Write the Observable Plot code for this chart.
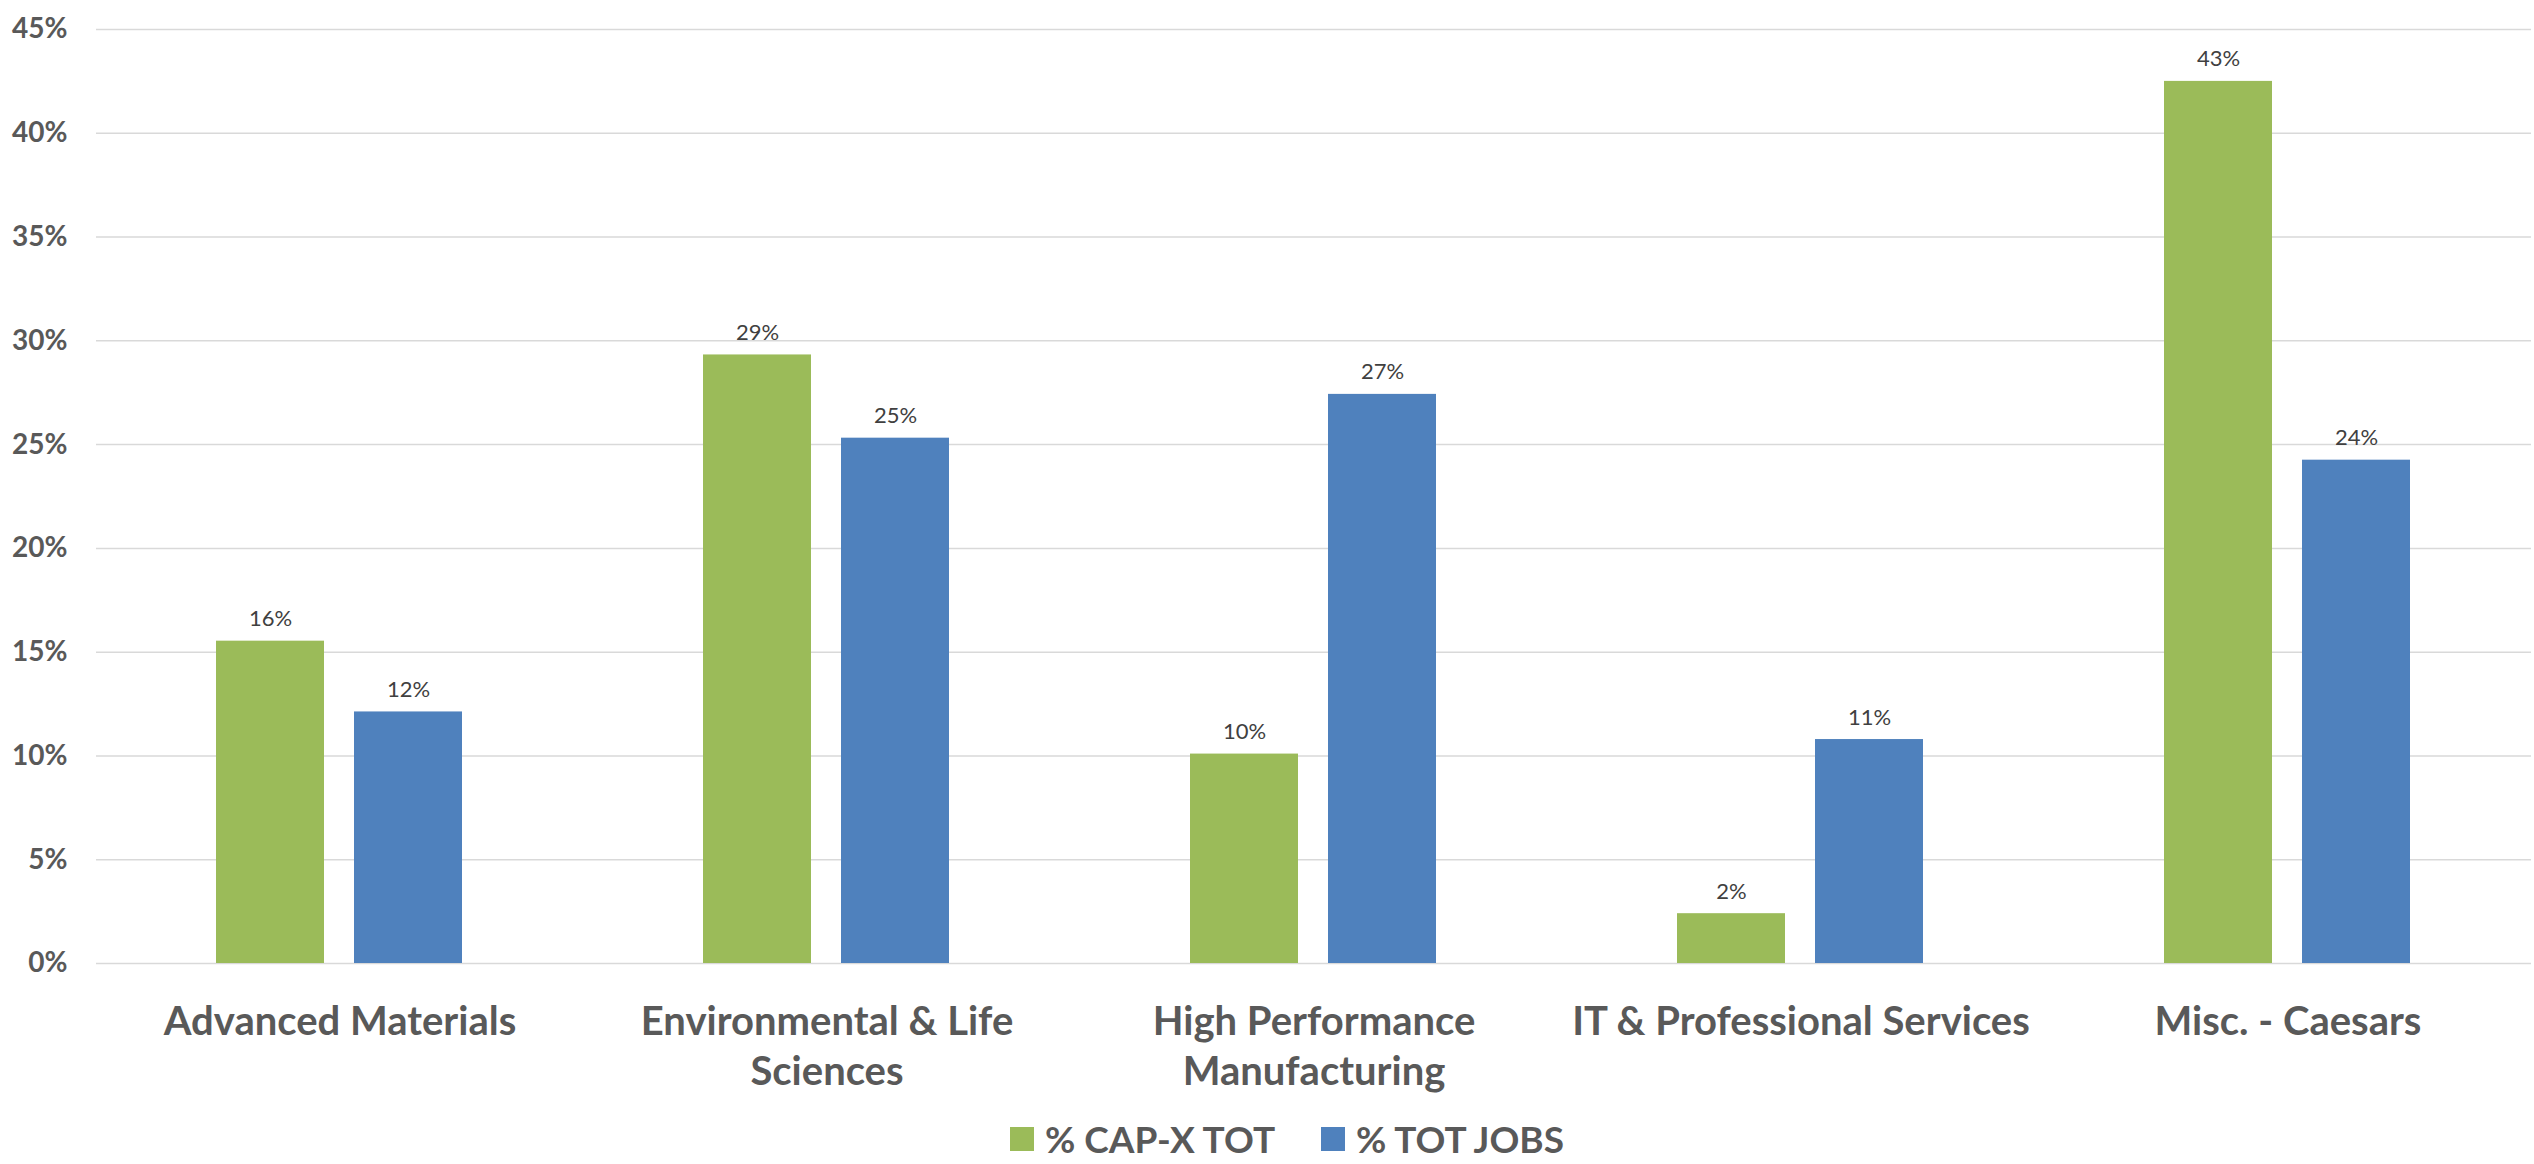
<!DOCTYPE html>
<html><head><meta charset="utf-8">
<script src="https://cdn.jsdelivr.net/npm/d3@7"></script>
<script src="https://cdn.jsdelivr.net/npm/@observablehq/plot@0.6"></script>
<style>
html,body{margin:0;padding:0;background:#fff;}
#wrap{position:relative;width:2534px;height:1164px;overflow:hidden;font-family:Lato,"Open Sans",sans-serif;}
#chart svg{display:block}
.legend-item{position:absolute;top:1120px;display:flex;align-items:center;font-weight:700;font-size:37px;color:#595959;line-height:37px;white-space:nowrap}
.legend-item .sw{width:24px;height:24px;margin-right:11px;flex:none}
</style></head><body><div id="wrap"><div id="chart"></div><div id="legend"></div></div>
<script>
const categories = ["Advanced Materials","Environmental & Life Sciences","High Performance Manufacturing","IT & Professional Services","Misc. - Caesars"];
const categoryLabels = ["Advanced Materials","Environmental & Life\nSciences","High Performance\nManufacturing","IT & Professional Services","Misc. - Caesars"];
const seriesNames = ["% CAP-X TOT","% TOT JOBS"];
const seriesColors = ["#9BBB59","#4F81BD"];
const capxValues = [0.1553,0.2932,0.1009,0.0240,0.4250];
const jobsValues = [0.1212,0.2531,0.2742,0.1079,0.2425];
const yTicks = [0,0.05,0.10,0.15,0.20,0.25,0.30,0.35,0.40,0.45];

const rows = categories.flatMap((c,i)=>[
  {category:c, series:seriesNames[0], value:capxValues[i]},
  {category:c, series:seriesNames[1], value:jobsValues[i]}
]);
const labelOf = new Map(categories.map((c,i)=>[c,categoryLabels[i]]));
const pct = d3.format(".0%");

const chart = Plot.plot({
  width:2534, height:1110,
  marginTop:29, marginBottom:147, marginLeft:96, marginRight:3,
  style:{fontFamily:"Lato, 'Open Sans', sans-serif", background:"#fff"},
  fx:{domain:categories, padding:0, label:null},
  x:{domain:seriesNames, paddingInner:0.216, paddingOuter:0.86, axis:null},
  y:{domain:[0,0.45], axis:null, label:null},
  color:{domain:seriesNames, range:seriesColors},
  marks:[
    Plot.gridY(yTicks,{stroke:"#d9d9d9", strokeOpacity:1, strokeWidth:1.5}),
    Plot.barY(rows,{fx:"category", x:"series", y:"value", fill:"series"}),
    Plot.text(rows,{fx:"category", x:"series", y:"value", text:d=>pct(d.value), lineAnchor:"bottom", dy:-15, fontSize:22, fill:"#404040"}),
    Plot.axisY(yTicks,{tickFormat:pct, tickSize:0, tickPadding:29, fontSize:28, fontWeight:"bold", fill:"#595959", label:null}),
    Plot.axisFx({anchor:"bottom", tickSize:0, tickPadding:36, tickFormat:c=>labelOf.get(c), fontSize:40, fontWeight:"bold", fill:"#595959", lineHeight:1.25, label:null})
  ]
});
document.getElementById("chart").appendChild(chart);

const legendLeft = [1010, 1321];
const legend = d3.select("#legend");
seriesNames.forEach((name,i)=>{
  const item = legend.append("div").attr("class","legend-item").style("left",legendLeft[i]+"px");
  item.append("div").attr("class","sw").style("background",seriesColors[i]);
  item.append("span").text(name);
});
</script>
</body></html>
